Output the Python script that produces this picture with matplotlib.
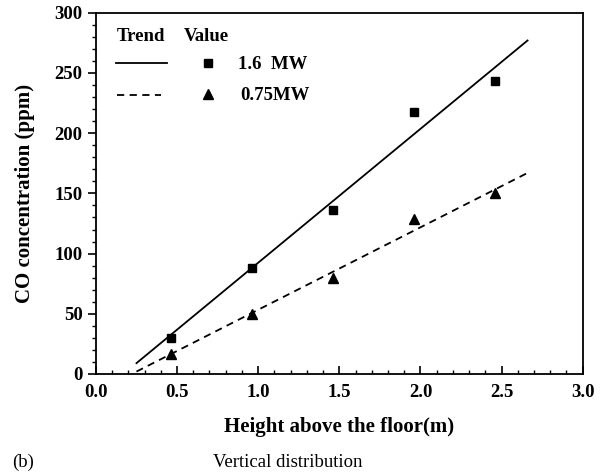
import numpy as np
import matplotlib
matplotlib.use("Agg")
import matplotlib.pyplot as plt
from matplotlib.ticker import MultipleLocator

plt.rcParams['font.family'] = ['Liberation Serif', 'DejaVu Serif']

# measured points
height = [0.46, 0.96, 1.46, 1.96, 2.46]
co_16mw = [30, 88, 136, 218, 243]
co_075mw = [17, 50, 80, 129, 150]

# trend lines (end points)
trend_x = [0.25, 2.66]
trend_16mw = [9, 277]
trend_075mw = [2, 167]

fig = plt.figure(figsize=(6.07, 4.74), dpi=100)
ax = fig.add_axes([0.158, 0.211, 0.802, 0.762])

ax.plot(trend_x, trend_16mw, color='black', lw=1.3)
ax.plot(trend_x, trend_075mw, color='black', lw=1.3, ls=(0, (4, 3)))
ax.plot(height, co_16mw, ls='none', marker='s', ms=5.5, color='black')
ax.plot(height, co_075mw, ls='none', marker='^', ms=6.5, color='black')

ax.set_xlim(0, 3.0)
ax.set_ylim(0, 300)
ax.xaxis.set_major_locator(MultipleLocator(0.5))
ax.xaxis.set_minor_locator(MultipleLocator(0.1))
ax.yaxis.set_major_locator(MultipleLocator(50))
ax.yaxis.set_minor_locator(MultipleLocator(10))
ax.xaxis.set_major_formatter(lambda v, p: f"{v:.1f}")
ax.tick_params(axis='x', which='both', direction='in', top=False, pad=7)
ax.tick_params(axis='y', which='both', direction='out', right=False)
ax.tick_params(which='major', length=6, width=1.2, labelsize=13.5)
ax.tick_params(which='minor', length=3, width=1.0)
for lab in ax.get_xticklabels() + ax.get_yticklabels():
    lab.set_fontweight('bold')
for s in ax.spines.values():
    s.set_linewidth(1.3)

ax.set_xlabel("Height above the floor(m)", fontsize=15, fontweight='bold', labelpad=12)
ax.set_ylabel("CO concentration (ppm)", fontsize=15, fontweight='bold', labelpad=14)

# hand-made legend
tr = ax.transAxes
ax.text(0.043, 0.934, "Trend", transform=tr, fontsize=13.5, fontweight='bold', va='center')
ax.text(0.180, 0.934, "Value", transform=tr, fontsize=13.5, fontweight='bold', va='center')
ax.plot([0.041, 0.146], [0.861, 0.861], transform=tr, color='black', lw=1.3)
ax.plot([0.043, 0.134], [0.772, 0.772], transform=tr, color='black', lw=1.3, ls=(0, (4, 3)))
ax.plot([0.230], [0.861], transform=tr, marker='s', ms=5.5, color='black')
ax.plot([0.230], [0.775], transform=tr, marker='^', ms=6.5, color='black')
ax.text(0.292, 0.857, "1.6  MW", transform=tr, fontsize=13.5, fontweight='bold', va='center')
ax.text(0.296, 0.770, "0.75MW", transform=tr, fontsize=13.5, fontweight='bold', va='center')

fig.text(0.020, 0.025, "(b)", fontsize=13.5, va='center')
fig.text(0.474, 0.025, "Vertical distribution", fontsize=13.5, va='center', ha='center')

fig.savefig("out.png", dpi=100)
